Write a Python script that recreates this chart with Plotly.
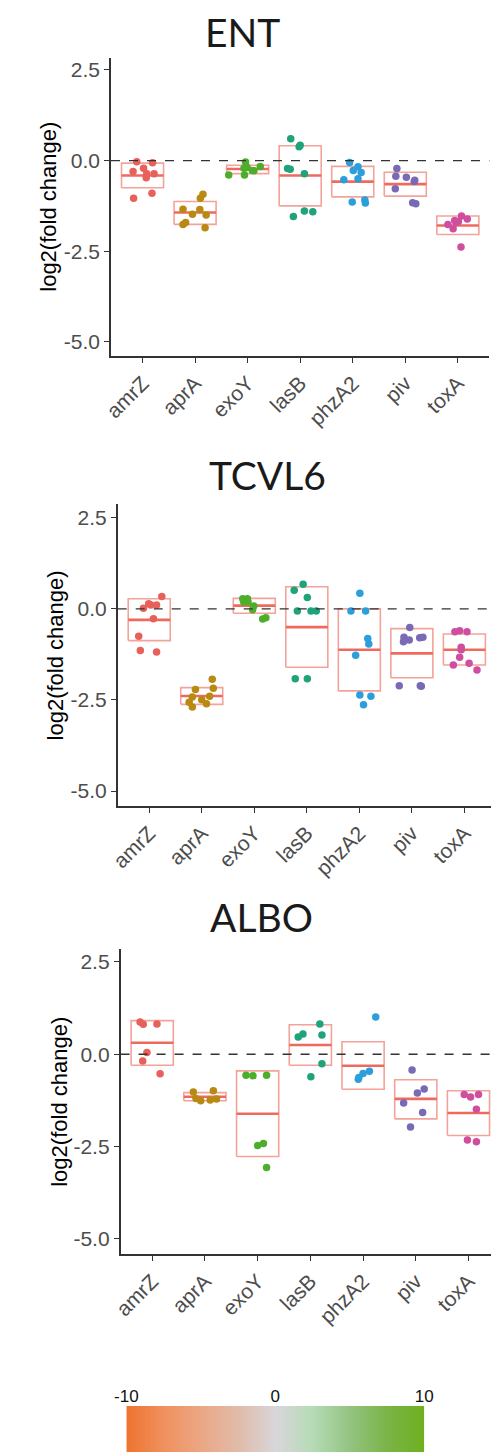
import plotly.graph_objects as go

W, H = 499, 1452

genes = ["amrZ", "aprA", "exoY", "lasB", "phzA2", "piv", "toxA"]
gene_colors = ["#E8605A", "#B98A12", "#4DAE2C", "#1FA37A", "#2C9FDB", "#7A6AB5", "#CF4F9E"]

panel_titles = ["ENT", "TCVL6", "ALBO"]
y_ticks = [2.5, 0.0, -2.5, -5.0]
y_tick_text = ["2.5", "0.0", "-2.5", "-5.0"]

# ---- ENT ----
ent_vals = [
    [-0.03, -0.06, -0.30, -0.21, -0.36, -0.47, -0.36, -1.04, -0.90],
    [-0.93, -1.04, -1.34, -1.48, -1.35, -1.50, -1.71, -1.76, -1.85],
    [-0.04, -0.19, -0.28, -0.16, -0.21, -0.40, -0.40, -0.27],
    [0.60, 0.38, 0.42, -0.22, -0.24, -0.36, -1.54, -1.39, -1.41],
    [-0.05, -0.17, -0.27, -0.33, -0.50, -0.53, -1.14, -1.09, -1.17],
    [-0.22, -0.43, -0.46, -0.54, -0.58, -0.78, -1.16, -1.19],
    [-1.53, -1.61, -1.65, -1.68, -1.76, -1.88, -2.38, -1.71],
]
ent_jitter = [
    [-0.11, 0.19, -0.18, 0.02, 0.08, 0.07, 0.22, -0.17, 0.18],
    [0.15, 0.10, -0.23, -0.05, 0.09, 0.21, -0.18, -0.23, 0.19],
    [-0.04, -0.01, 0.12, 0.24, -0.07, -0.36, -0.06, 0.09],
    [-0.18, -0.02, 0.00, -0.24, -0.19, 0.08, -0.13, 0.08, 0.24],
    [-0.06, 0.10, 0.01, 0.16, 0.10, -0.17, -0.01, 0.23, 0.24],
    [-0.16, -0.18, 0.02, 0.18, 0.17, -0.19, 0.14, 0.20],
    [0.07, 0.18, -0.06, 0.01, -0.19, -0.09, 0.06, -0.03],
]
ent_box_hi = [-0.07, -1.13, -0.13, 0.41, -0.16, -0.32, -1.53]
ent_box_mid = [-0.41, -1.43, -0.23, -0.41, -0.58, -0.65, -1.79]
ent_box_lo = [-0.75, -1.76, -0.36, -1.25, -1.00, -0.98, -2.04]

# ---- TCVL6 ----
tcv_vals = [
    [0.34, 0.14, 0.11, 0.11, 0.02, -0.27, -0.75, -1.14, -1.18],
    [-1.93, -2.21, -2.18, -2.42, -2.40, -2.49, -2.56, -2.60, -2.69],
    [0.28, 0.28, 0.19, 0.20, 0.08, -0.02, -0.28, -0.24],
    [0.68, 0.51, 0.31, -0.06, -0.06, -0.06, -1.92, -1.92],
    [0.43, -0.06, -0.06, -0.81, -0.96, -1.27, -2.36, -2.40, -2.63],
    [-0.51, -0.78, -0.90, -0.85, -0.79, -0.78, -2.11, -2.11, -2.12],
    [-0.63, -0.60, -0.63, -1.05, -1.12, -1.33, -1.54, -1.49, -1.68],
]
tcv_jitter = [
    [0.24, -0.01, 0.14, 0.03, -0.11, 0.08, -0.20, -0.17, 0.14],
    [0.20, -0.12, 0.22, -0.18, 0.15, 0.00, -0.24, 0.09, -0.18],
    [-0.22, -0.13, -0.20, -0.12, -0.01, -0.03, 0.16, 0.22],
    [-0.07, -0.24, 0.01, -0.18, 0.08, 0.18, -0.22, 0.01],
    [0.01, -0.16, 0.12, 0.16, 0.18, -0.07, 0.01, 0.22, 0.08],
    [-0.04, -0.15, -0.16, -0.05, 0.15, 0.21, -0.24, 0.16, 0.18],
    [-0.18, -0.09, 0.05, -0.06, -0.06, -0.09, -0.21, 0.09, 0.24],
]
tcv_box_hi = [0.28, -2.16, 0.29, 0.61, 0.00, -0.54, -0.69]
tcv_box_mid = [-0.30, -2.39, 0.09, -0.50, -1.12, -1.22, -1.12]
tcv_box_lo = [-0.87, -2.62, -0.12, -1.60, -2.25, -1.89, -1.54]

# ---- ALBO ----
alb_vals = [
    [0.87, 0.81, 0.82, 0.05, -0.18, -0.53],
    [-1.02, -0.99, -1.20, -1.26, -1.24, -1.21],
    [-0.57, -0.58, -0.57, -2.47, -2.42, -3.07],
    [0.82, 0.55, 0.47, 0.52, -0.26, -0.61],
    [1.01, -0.46, -0.52, -0.63, -0.68],
    [-0.43, -0.94, -1.05, -1.32, -1.58, -1.97],
    [-1.09, -1.16, -1.09, -1.49, -2.32, -2.37],
]
alb_jitter = [
    [-0.23, -0.17, 0.09, -0.10, -0.18, 0.15],
    [-0.22, 0.16, -0.17, -0.08, 0.10, 0.22],
    [-0.22, -0.09, 0.17, 0.00, 0.11, 0.17],
    [0.18, -0.14, -0.23, 0.22, 0.22, 0.01],
    [0.24, 0.12, 0.00, -0.08, -0.09],
    [-0.07, 0.16, 0.03, -0.23, 0.13, -0.10],
    [-0.08, 0.04, 0.19, 0.15, -0.02, 0.15],
]
alb_box_hi = [0.91, -1.04, -0.45, 0.80, 0.34, -0.69, -0.99]
alb_box_mid = [0.31, -1.15, -1.61, 0.25, -0.31, -1.21, -1.59]
alb_box_lo = [-0.30, -1.26, -2.77, -0.30, -0.95, -1.75, -2.20]

# colour legend
legend_stops = [-10, -7.5, -5, -2.5, 0, 2.5, 5, 7.5, 10]
legend_colors = ["#EE7430", "#F0915F", "#EBA785", "#E0BCAA", "#D9D6DB",
                 "#B6DBB6", "#93C482", "#7AB447", "#6EB020"]
legend_ticks = [-10, 0, 10]

# ---------------- layout geometry (pixels) ----------------
panels = [
    dict(vals=ent_vals, jit=ent_jitter, hi=ent_box_hi, mid=ent_box_mid, lo=ent_box_lo,
         x0=95, x1=490, xr=[-0.6, 6.6], top=50, bot=348, yr=[-5.39, 2.83],
         tx=232, ty=24, ytx=30),
    dict(vals=tcv_vals, jit=tcv_jitter, hi=tcv_box_hi, mid=tcv_box_mid, lo=tcv_box_lo,
         x0=102, x1=499, xr=[-0.6, 6.64], top=496, bot=798, yr=[-5.41, 2.88],
         tx=258, ty=467, ytx=37),
    dict(vals=alb_vals, jit=alb_jitter, hi=alb_box_hi, mid=alb_box_mid, lo=alb_box_lo,
         x0=105, x1=499, xr=[-0.6, 6.56], top=941, bot=1246, yr=[-5.41, 2.85],
         tx=252, ty=909, ytx=41),
]

fig = go.Figure()
tick_font = dict(family="Liberation Sans, Arial", size=21, color="#4D4D4D")
axis_col = "#333333"
annotations = []
shapes = []

for k, p in enumerate(panels):
    n = "" if k == 0 else str(k + 1)
    xa, ya = "x" + n, "y" + n
    bx, by, mx, my = [], [], [], []
    for i in range(len(genes)):
        bx += [i - 0.4, i + 0.4, i + 0.4, i - 0.4, i - 0.4, None]
        by += [p["lo"][i], p["lo"][i], p["hi"][i], p["hi"][i], p["lo"][i], None]
        mx += [i - 0.4, i + 0.4, None]
        my += [p["mid"][i], p["mid"][i], None]
    fig.add_trace(go.Scatter(x=bx, y=by, mode="lines", xaxis=xa, yaxis=ya,
                             line=dict(color="#F3A39A", width=1.6), showlegend=False,
                             hoverinfo="skip"))
    fig.add_trace(go.Scatter(x=mx, y=my, mode="lines", xaxis=xa, yaxis=ya,
                             line=dict(color="#EE6A5E", width=2.6), showlegend=False,
                             hoverinfo="skip"))
    for i, g in enumerate(genes):
        xs = [i + j for j in p["jit"][i]]
        fig.add_trace(go.Scatter(x=xs, y=p["vals"][i], mode="markers", xaxis=xa, yaxis=ya,
                                 marker=dict(color=gene_colors[i], size=7.5),
                                 showlegend=False, name=g))
    shapes.append(dict(type="line", xref=xa + " domain", yref=ya, x0=0, x1=1, y0=0, y1=0,
                       line=dict(color="#333333", width=1.4, dash="dash")))
    dom_x = [p["x0"] / W, p["x1"] / W]
    dom_y = [1 - p["bot"] / H, 1 - p["top"] / H]
    fig.update_layout(**{
        ("xaxis" + n): dict(domain=dom_x, range=p["xr"], anchor=ya, tickmode="array",
                            tickvals=list(range(len(genes))), ticktext=genes,
                            tickangle=-45, tickfont=tick_font, showline=True,
                            linecolor=axis_col, linewidth=1.6, ticks="outside",
                            ticklen=5, tickcolor=axis_col, showgrid=False, zeroline=False),
        ("yaxis" + n): dict(domain=dom_y, range=p["yr"], anchor=xa, tickmode="array",
                            tickvals=y_ticks, ticktext=y_tick_text, tickfont=tick_font,
                            showline=True, linecolor=axis_col, linewidth=1.6,
                            ticks="outside", ticklen=5, tickcolor=axis_col,
                            showgrid=False, zeroline=False),
    })
    annotations.append(dict(text=panel_titles[k], xref="paper", yref="paper",
                            x=p["tx"] / W, y=1 - p["ty"] / H, xanchor="center",
                            yanchor="middle", showarrow=False,
                            font=dict(family="Lato", size=39, color="#1A1A1A")))
    annotations.append(dict(text="log2(fold change)", xref="paper", yref="paper",
                            x=p["ytx"] / W, y=1 - (p["top"] + p["bot"]) / 2 / H,
                            xanchor="center", yanchor="middle", textangle=-90,
                            showarrow=False,
                            font=dict(family="Liberation Sans, Arial", size=22, color="#000000")))

# colour legend bar
cs = [[(s - legend_stops[0]) / (legend_stops[-1] - legend_stops[0]), c]
      for s, c in zip(legend_stops, legend_colors)]
fig.add_trace(go.Heatmap(x=legend_stops, y=[0], z=[legend_stops], zmin=-10, zmax=10,
                         colorscale=cs, zsmooth="best", showscale=False,
                         xaxis="x4", yaxis="y4", hoverinfo="skip"))
fig.update_layout(
    xaxis4=dict(domain=[111 / W, 422 / W], range=[-10, 10], anchor="y4", side="top",
                tickmode="array", tickvals=legend_ticks,
                ticktext=[str(t) for t in legend_ticks], ticks="", showline=False,
                showgrid=False, zeroline=False,
                tickfont=dict(family="Liberation Sans, Arial", size=17, color="#111111")),
    yaxis4=dict(domain=[1 - 1451 / H, 1 - 1398 / H], range=[-0.5, 0.5], anchor="x4",
                showticklabels=False, ticks="", showgrid=False, zeroline=False,
                showline=False),
)

fig.update_layout(width=W, height=H, margin=dict(l=0, r=0, t=0, b=0),
                  plot_bgcolor="white", paper_bgcolor="white",
                  annotations=annotations, shapes=shapes, showlegend=False)

fig.write_html("out.html")
